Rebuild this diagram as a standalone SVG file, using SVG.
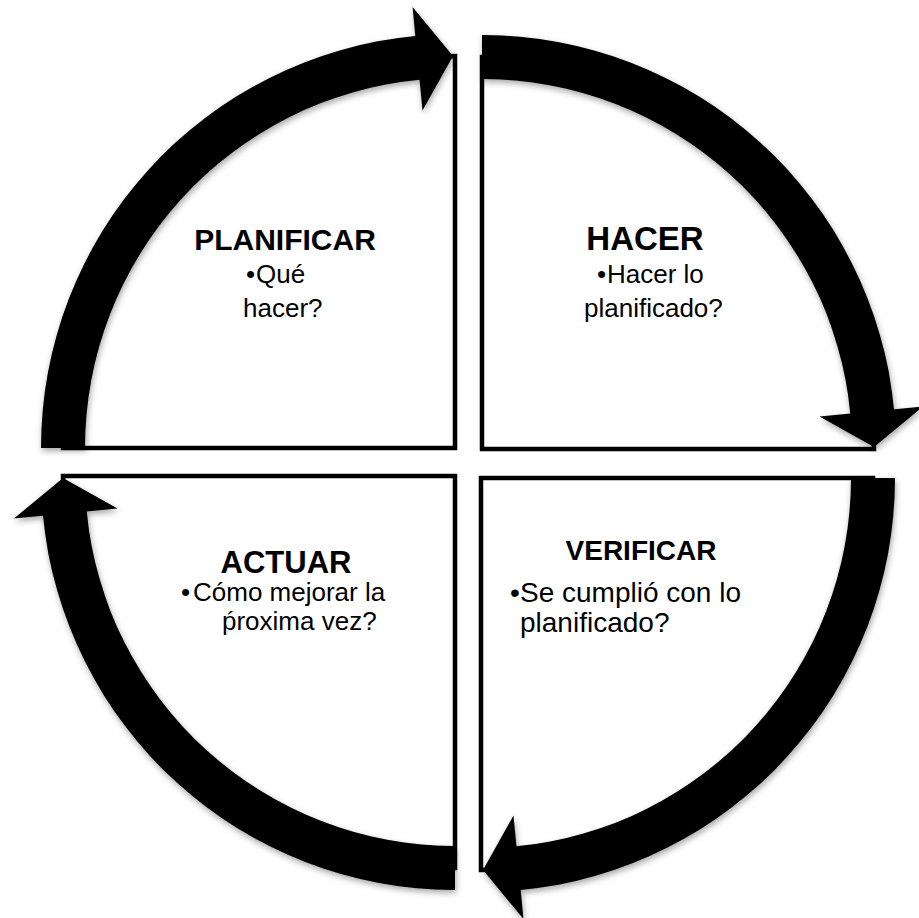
<svg xmlns="http://www.w3.org/2000/svg" width="919" height="918" viewBox="0 0 919 918">
<style>
.quad{fill:#fff;stroke:#000;stroke-width:4.5;stroke-linejoin:miter}
.title{font-family:"Liberation Sans",Arial,sans-serif;font-weight:bold;fill:#000}
.body{font-family:"Liberation Sans",Arial,sans-serif;fill:#000}
.arc{fill:#050505}
</style>
<defs>
<filter id="sh" x="-20%" y="-20%" width="140%" height="140%">
<feDropShadow dx="1" dy="3" stdDeviation="3" flood-color="#000" flood-opacity="0.35"/>
</filter>
<path id="arrow" d="M -414 0 A 414 414 0 0 1 -39.68 -412.1 L -42.46 -440.96 L -2 -392 L -32.49 -337.44 L -35.46 -368.3 A 370 370 0 0 0 -370 0 Z"/>
</defs>
<rect width="919" height="918" fill="#fff"/>
<g id="planificar">
<path class="quad" d="M455,448 L455,56 A392,392 0 0 0 63,448 Z"/>
<text class="title" x="285" y="250" font-size="30" text-anchor="middle">PLANIFICAR</text>
<text class="body" font-size="26"><tspan x="246" y="283">•</tspan><tspan x="256" y="283">Qué</tspan><tspan x="243" y="317">hacer?</tspan></text>
</g>
<g id="hacer">
<path class="quad" d="M482,449 L874,449 A392,392 0 0 0 482,57 Z"/>
<text class="title" x="645" y="250" font-size="33" text-anchor="middle">HACER</text>
<text class="body" font-size="26"><tspan x="597" y="283">•</tspan><tspan x="607" y="283">Hacer lo</tspan><tspan x="584" y="317">planificado?</tspan></text>
</g>
<g id="verificar">
<path class="quad" d="M481,478 L481,870 A392,392 0 0 0 873,478 Z"/>
<text class="title" x="641" y="560" font-size="28" text-anchor="middle">VERIFICAR</text>
<text class="body" font-size="28"><tspan x="510" y="602">•</tspan><tspan x="520" y="602">Se cumplió con lo</tspan><tspan x="520" y="632">planificado?</tspan></text>
</g>
<g id="actuar">
<path class="quad" d="M455,476 L63,476 A392,392 0 0 0 455,868 Z"/>
<text class="title" x="286" y="573" font-size="31" text-anchor="middle">ACTUAR</text>
<text class="body" font-size="26"><tspan x="181" y="601">•</tspan><tspan x="193" y="601">Cómo mejorar la</tspan><tspan x="222" y="630">ṕroxima vez?</tspan></text>
</g>
<g id="connectors" class="arc" filter="url(#sh)">
<use href="#arrow" transform="translate(455,448)"/>
<use href="#arrow" transform="translate(482,449) rotate(90)"/>
<use href="#arrow" transform="translate(481,478) rotate(180)"/>
<use href="#arrow" transform="translate(455,476) rotate(270)"/>
</g>
</svg>
